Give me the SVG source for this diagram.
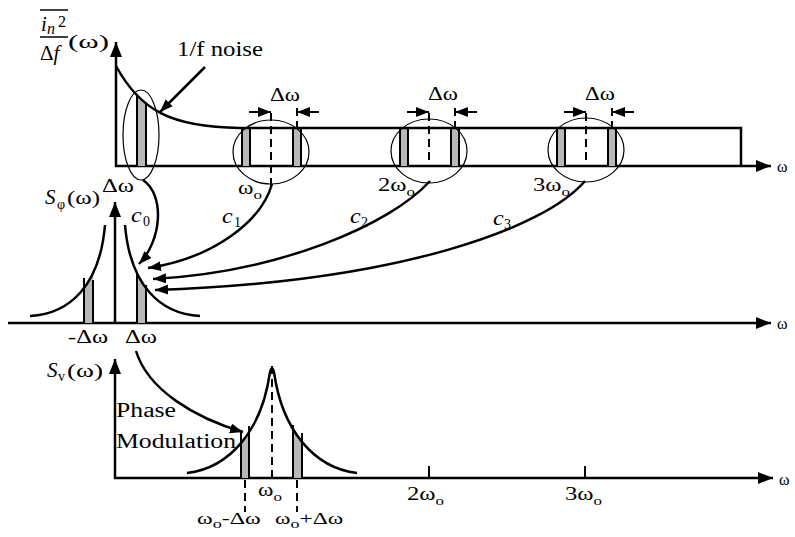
<svg xmlns="http://www.w3.org/2000/svg" width="795" height="537" viewBox="0 0 795 537">
<style>
text{font-family:"Liberation Serif","Times New Roman",serif;fill:#000}
.ax{stroke:#000;stroke-width:2.5;fill:none}
.cv{stroke:#000;stroke-width:2.5;fill:none}
.thin{stroke:#000;stroke-width:1.2;fill:none}
.dash{stroke:#000;stroke-width:2;stroke-dasharray:8,5;fill:none}
.bar{stroke:#000;stroke-width:2}
.band{fill:#b8b8b8}
.it{font-style:italic}
</style>
<defs>
<marker id="ah" markerUnits="userSpaceOnUse" markerWidth="14" markerHeight="11" refX="13" refY="5" orient="auto">
<path d="M0,0 L13,5 L0,10 z" fill="#000"/>
</marker>
<marker id="axh" markerUnits="userSpaceOnUse" markerWidth="16" markerHeight="13" refX="15" refY="6" orient="auto">
<path d="M0,0 L15,6 L0,12 z" fill="#000"/>
</marker>
<clipPath id="underTop"><path d="M116,66 C140,110 170,127 240,128 L741,128 L741,166 L116,166 z"/></clipPath>
<clipPath id="underMid"><path d="M105,225 C100,285 70,314 30,316 L30,323 L200,323 L200,316 C160,314 130,285 125,225 z"/></clipPath>
<clipPath id="underBot"><path d="M187,473 C230,468 262,430 270,372 Q272,365 274,372 C282,430 314,468 357,473 L357,478 L187,478 z"/></clipPath>
</defs>

<!-- TOP PLOT -->
<g id="top-axes">
<line class="ax" x1="116" y1="167" x2="116" y2="42" marker-end="url(#axh)"/>
<line class="ax" x1="115" y1="166" x2="771" y2="166" marker-end="url(#axh)"/>
<text x="777" y="172" font-size="16">ω</text>
</g>
<g id="top-label">
<line x1="40" y1="10" x2="68" y2="10" stroke="#000" stroke-width="1.5"/>
<text x="41" y="31" font-size="21" class="it">i</text>
<text x="47" y="34" font-size="16" class="it">n</text>
<text x="58" y="27" font-size="16">2</text>
<line x1="40" y1="37" x2="68" y2="37" stroke="#000" stroke-width="1.5"/>
<text x="40" y="60" font-size="21">Δ<tspan class="it">f</tspan></text>
<text x="68" y="48" font-size="18" textLength="41" lengthAdjust="spacingAndGlyphs">(ω)</text>
</g>
<g id="noise-spectrum">
<g clip-path="url(#underTop)">
<rect class="band" x="137" y="60" width="9" height="106"/>
<rect class="band" x="242" y="120" width="8" height="46"/>
<rect class="band" x="293" y="120" width="8" height="46"/>
<rect class="band" x="400" y="120" width="8" height="46"/>
<rect class="band" x="451" y="120" width="8" height="46"/>
<rect class="band" x="557" y="120" width="8" height="46"/>
<rect class="band" x="608" y="120" width="8" height="46"/>
<line class="bar" x1="137" y1="60" x2="137" y2="166"/>
<line class="bar" x1="146" y1="60" x2="146" y2="166"/>
</g>
<path class="cv" d="M116,66 C140,110 170,127 240,128 L741,128 L741,166"/>
</g>
<g id="flicker-band">
<ellipse class="thin" cx="141" cy="135" rx="18" ry="45"/>
<text x="177" y="56" font-size="21" textLength="86" lengthAdjust="spacingAndGlyphs">1/f noise</text>
<line class="cv" x1="205" y1="67" x2="160" y2="112" stroke-width="2.5" marker-end="url(#ah)"/>
</g>
<g id="band-w0">
<line class="bar" x1="242" y1="128" x2="242" y2="166"/>
<line class="bar" x1="250" y1="128" x2="250" y2="166"/>
<line class="bar" x1="293" y1="128" x2="293" y2="166"/>
<line class="bar" x1="301" y1="128" x2="301" y2="166"/>
<line class="dash" x1="271" y1="113" x2="271" y2="190"/>
<line class="dash" x1="297" y1="108" x2="297" y2="128"/>
<ellipse class="thin" cx="271" cy="152" rx="38" ry="32"/>
<line x1="249" y1="112" x2="271" y2="112" stroke="#000" stroke-width="2" marker-end="url(#ah)"/>
<line x1="319" y1="112" x2="297" y2="112" stroke="#000" stroke-width="2" marker-end="url(#ah)"/>
<text x="270" y="101" font-size="19" textLength="30" lengthAdjust="spacingAndGlyphs">Δω</text>
<text transform="translate(238,194) scale(1.3,1)" font-size="18">ω<tspan font-size="13" dy="5">o</tspan></text>
</g>
<g id="band-2w0">
<line class="bar" x1="400" y1="128" x2="400" y2="166"/>
<line class="bar" x1="408" y1="128" x2="408" y2="166"/>
<line class="bar" x1="451" y1="128" x2="451" y2="166"/>
<line class="bar" x1="459" y1="128" x2="459" y2="166"/>
<line class="dash" x1="429" y1="113" x2="429" y2="166"/>
<line class="dash" x1="455" y1="108" x2="455" y2="128"/>
<ellipse class="thin" cx="429" cy="151" rx="38" ry="32"/>
<line x1="407" y1="112" x2="429" y2="112" stroke="#000" stroke-width="2" marker-end="url(#ah)"/>
<line x1="477" y1="112" x2="455" y2="112" stroke="#000" stroke-width="2" marker-end="url(#ah)"/>
<text x="428" y="100" font-size="19" textLength="30" lengthAdjust="spacingAndGlyphs">Δω</text>
<text transform="translate(378,191) scale(1.3,1)" font-size="19">2ω<tspan font-size="13" dy="5">o</tspan></text>
</g>
<g id="band-3w0">
<line class="bar" x1="557" y1="128" x2="557" y2="166"/>
<line class="bar" x1="565" y1="128" x2="565" y2="166"/>
<line class="bar" x1="608" y1="128" x2="608" y2="166"/>
<line class="bar" x1="616" y1="128" x2="616" y2="166"/>
<line class="dash" x1="586" y1="113" x2="586" y2="166"/>
<line class="dash" x1="612" y1="108" x2="612" y2="128"/>
<ellipse class="thin" cx="586" cy="150" rx="38" ry="32"/>
<line x1="564" y1="112" x2="586" y2="112" stroke="#000" stroke-width="2" marker-end="url(#ah)"/>
<line x1="634" y1="112" x2="612" y2="112" stroke="#000" stroke-width="2" marker-end="url(#ah)"/>
<text x="585" y="100" font-size="19" textLength="30" lengthAdjust="spacingAndGlyphs">Δω</text>
<text transform="translate(533,191) scale(1.3,1)" font-size="19">3ω<tspan font-size="13" dy="5">o</tspan></text>
</g>

<!-- MIDDLE PLOT -->
<g id="phase-spectrum">
<line class="ax" x1="8" y1="323" x2="771" y2="323" marker-end="url(#axh)"/>
<text x="777" y="329" font-size="16">ω</text>
<line class="ax" x1="115" y1="324" x2="115" y2="202" marker-end="url(#axh)"/>
<g clip-path="url(#underMid)">
<rect class="band" x="84" y="230" width="9" height="93"/>
<rect class="band" x="137" y="230" width="9" height="93"/>
</g>
<line class="bar" x1="84" y1="278" x2="84" y2="323"/>
<line class="bar" x1="93" y1="280" x2="93" y2="323"/>
<line class="bar" x1="137" y1="274" x2="137" y2="323"/>
<line class="bar" x1="146" y1="285" x2="146" y2="323"/>
<path class="cv" d="M105,225 C100,285 70,314 30,316"/>
<path class="cv" d="M125,225 C130,285 160,314 200,316"/>
<text x="45" y="204" font-size="21" class="it">S</text>
<text x="57" y="209" font-size="14">φ</text>
<text x="67" y="204" font-size="19" textLength="33" lengthAdjust="spacingAndGlyphs">(ω)</text>
<text x="102" y="192" font-size="18" textLength="32" lengthAdjust="spacingAndGlyphs">Δω</text>
<text x="68" y="343" font-size="18" textLength="40" lengthAdjust="spacingAndGlyphs">-Δω</text>
<text x="125" y="343" font-size="18" textLength="32" lengthAdjust="spacingAndGlyphs">Δω</text>
</g>

<!-- CONNECTORS -->
<g id="connectors">
<path class="cv" d="M143,180 C165,195 162,240 139,264" marker-end="url(#ah)"/>
<path class="cv" d="M272,184 C262,220 215,258 148,268" marker-end="url(#ah)"/>
<path class="cv" d="M430,181 C390,225 280,272 153,279" marker-end="url(#ah)"/>
<path class="cv" d="M585,181 C545,228 400,282 155,290" marker-end="url(#ah)"/>
<path class="cv" d="M136,351 C148,390 195,418 243,432" marker-end="url(#ah)"/>
<text transform="translate(131,222) scale(1.2,1)" font-size="20" class="it">c</text><text x="143" y="226" font-size="14">0</text>
<text transform="translate(222,223) scale(1.2,1)" font-size="20" class="it">c</text><text x="234" y="227" font-size="14">1</text>
<text transform="translate(350,223) scale(1.2,1)" font-size="20" class="it">c</text><text x="361" y="227" font-size="14">2</text>
<text transform="translate(493,225) scale(1.2,1)" font-size="20" class="it">c</text><text x="504" y="229" font-size="14">3</text>
</g>

<!-- BOTTOM PLOT -->
<g id="output-spectrum">
<line class="ax" x1="115" y1="479" x2="115" y2="359" marker-end="url(#axh)"/>
<line class="ax" x1="114" y1="478" x2="773" y2="478" marker-end="url(#axh)"/>
<text x="779" y="485" font-size="16">ω</text>
<text x="47" y="377" font-size="21" class="it">S</text>
<text x="58" y="381" font-size="14">v</text>
<text x="67" y="377" font-size="19" textLength="36" lengthAdjust="spacingAndGlyphs">(ω)</text>
<text x="116" y="417" font-size="20" textLength="60" lengthAdjust="spacingAndGlyphs">Phase</text>
<text x="116" y="448" font-size="20" textLength="120" lengthAdjust="spacingAndGlyphs">Modulation</text>
<g clip-path="url(#underBot)">
<rect class="band" x="241" y="400" width="8" height="78"/>
<rect class="band" x="293" y="400" width="9" height="78"/>
</g>
<line class="bar" x1="241" y1="432" x2="241" y2="478"/>
<line class="bar" x1="249" y1="426" x2="249" y2="478"/>
<line class="bar" x1="293" y1="425" x2="293" y2="478"/>
<line class="bar" x1="302" y1="433" x2="302" y2="478"/>
<path class="cv" d="M187,473 C230,468 262,430 270,372 Q272,365 274,372 C282,430 314,468 357,473"/>
<line class="dash" x1="272" y1="366" x2="272" y2="478"/>
<line class="dash" x1="245" y1="480" x2="245" y2="512"/>
<line class="dash" x1="297" y1="480" x2="297" y2="512"/>
<line x1="429" y1="466" x2="429" y2="478" stroke="#000" stroke-width="2"/>
<line x1="585" y1="466" x2="585" y2="478" stroke="#000" stroke-width="2"/>
<text transform="translate(258,496) scale(1.3,1)" font-size="18">ω<tspan font-size="13" dy="5">o</tspan></text>
<text transform="translate(197,524) scale(1.4,1)" font-size="17">ω<tspan font-size="13" dy="4">o</tspan><tspan dy="-4">-Δω</tspan></text>
<text transform="translate(275,524) scale(1.38,1)" font-size="17">ω<tspan font-size="13" dy="4">o</tspan><tspan dy="-4">+Δω</tspan></text>
<text transform="translate(407,500) scale(1.3,1)" font-size="19">2ω<tspan font-size="13" dy="5">o</tspan></text>
<text transform="translate(565,500) scale(1.3,1)" font-size="19">3ω<tspan font-size="13" dy="5">o</tspan></text>
</g>
</svg>
